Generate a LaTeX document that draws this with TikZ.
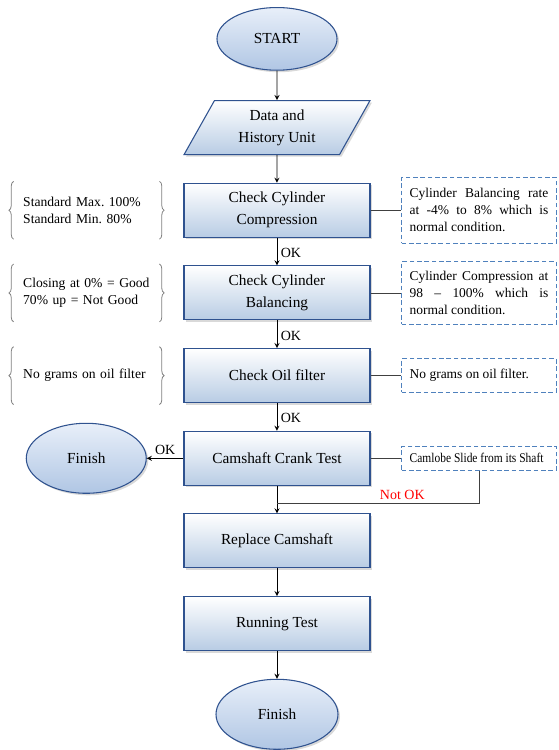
\documentclass[tikz,border=0pt]{standalone}
\usepackage{fontspec}
\setmainfont{Liberation Serif}
\newfontfamily\narrowfont[FakeStretch=0.86]{Liberation Serif}
\usepackage{xcolor}
\usetikzlibrary{shapes,arrows,positioning,calc,shadows,decorations.pathreplacing}
\frenchspacing

\definecolor{boxline}{RGB}{47,82,143}
\definecolor{boxfill}{RGB}{184,204,228}
\definecolor{elltop}{RGB}{232,239,249}
\definecolor{ellbottom}{RGB}{176,198,228}
\definecolor{dashline}{RGB}{79,129,189}
\definecolor{bracegray}{RGB}{128,128,128}

\begin{document}
\begin{tikzpicture}[node distance=20.7pt, >=stealth,
    block/.style={rectangle, draw=boxline, line width=0.8pt, top color=white, bottom color=boxfill, minimum width=139.5pt, minimum height=40.5pt, align=center, font=\fontsize{11.5}{16.5}\selectfont, drop shadow={opacity=0.3, shadow xshift=1.5pt, shadow yshift=-1.5pt}},
    terminal/.style={ellipse, draw=boxline, line width=0.8pt, top color=elltop, bottom color=ellbottom, minimum width=90pt, minimum height=47pt, font=\fontsize{11.5}{16.5}\selectfont, drop shadow={opacity=0.3, shadow xshift=1.5pt, shadow yshift=-1.5pt}},
    io/.style={trapezium, trapezium left angle=65, trapezium right angle=115, trapezium stretches=true, draw=boxline, line width=0.8pt, top color=white, bottom color=boxfill, minimum width=140pt, minimum height=40.5pt, align=center, font=\fontsize{11.5}{16.5}\selectfont, drop shadow={opacity=0.3, shadow xshift=1.5pt, shadow yshift=-1.5pt}},
    remark/.style={rectangle, draw=dashline, line width=0.8pt, dash pattern=on 3.5pt off 2pt, text width=104pt, inner xsep=6pt, inner ysep=6pt, align=justify, font=\fontsize{10.1}{12.75}\selectfont},
    memo/.style={rectangle, text width=95pt, inner xsep=7pt, minimum height=43pt, align=left, font=\fontsize{10.2}{12.75}\selectfont},
    curly/.style={draw=bracegray, line width=0.6pt, decorate, decoration={brace, amplitude=3.5pt}},
    flow/.style={->, draw=black, line width=0.7pt},
    link/.style={draw=black!75, line width=0.6pt},
    oklabel/.style={font=\fontsize{10.5}{12}\selectfont, inner sep=2.5pt}]

    % Main flow
    \node[terminal] (start) {START};
    \useasboundingbox ($(start.north)+(-207.75pt,5.25pt)$) rectangle ++(418.5pt,-562.5pt);
    \node[io, below=22pt of start] (data) {Data and\\History Unit};
    \node[block, below=of data] (ccc) {Check Cylinder\\Compression};
    \node[block, below=of ccc] (ccb) {Check Cylinder\\Balancing};
    \node[block, below=of ccb] (oil) {Check Oil filter};
    \node[block, below=of oil] (crank) {Camshaft Crank Test};
    \node[block, below=of crank] (replace) {Replace Camshaft};
    \node[block, below=of replace] (running) {Running Test};
    \node[terminal, below=of running, minimum width=91.5pt, minimum height=52.5pt] (finish) {Finish};
    \node[terminal, left=27.5pt of crank, minimum height=52.5pt] (finishok) {Finish};

    % Left notes with braces
    \node[memo, left=18pt of ccc] (lccc) {Standard Max. 100\%\\Standard Min. 80\%};
    \node[memo, left=18pt of ccb] (lccb) {Closing at 0\% = Good\\70\% up = Not Good};
    \node[memo, left=18pt of oil] (loil) {No grams on oil filter};
    \foreach \n in {lccc,lccb,loil} {
        \draw[curly] (\n.south west) -- (\n.north west);
        \draw[curly] (\n.north east) -- (\n.south east);
    }

    % Right notes
    \node[remark, right=23pt of ccc, minimum height=49.5pt] (rccc) {Cylinder Balancing rate\linebreak at -4\% to 8\% which is\linebreak normal condition.};
    \node[remark, right=23pt of ccb, minimum height=47pt] (rccb) {Cylinder Compression at\linebreak 98 -- 100\% which is\linebreak normal condition.};
    \node[remark, right=23pt of oil, minimum height=25pt] (roil) {No grams on oil filter.};
    \node[remark, right=23pt of crank, inner ysep=3pt, minimum height=18pt, font=\fontsize{10}{12}\narrowfont] (rcrank) {Camlobe Slide from its Shaft};

    % Arrows
    \draw[flow] (start) -- (data);
    \draw[flow] (data) -- (ccc);
    \draw[flow] (ccc) -- node[right, pos=0.55, oklabel] {OK} (ccb);
    \draw[flow] (ccb) -- node[right, pos=0.55, oklabel] {OK} (oil);
    \draw[flow] (oil) -- node[right, pos=0.55, oklabel] {OK} (crank);
    \draw[flow] (crank) -- node[above, oklabel] {OK} (finishok);
    \draw[flow] (crank) -- (replace);
    \draw[flow] (replace) -- (running);
    \draw[flow] (running) -- (finish);

    % Note connectors
    \draw[link] (ccc) -- (rccc);
    \draw[link] (ccb) -- (rccb);
    \draw[link] (oil) -- (roil);
    \draw[link] (crank) -- (rcrank);
    \coordinate (merge) at ($(crank.south)!0.65!(replace.north)$);
    \draw[link] (rcrank.south) |- node[pos=0.69, above, oklabel, text=red] {Not OK} (merge);

\end{tikzpicture}
\end{document}
